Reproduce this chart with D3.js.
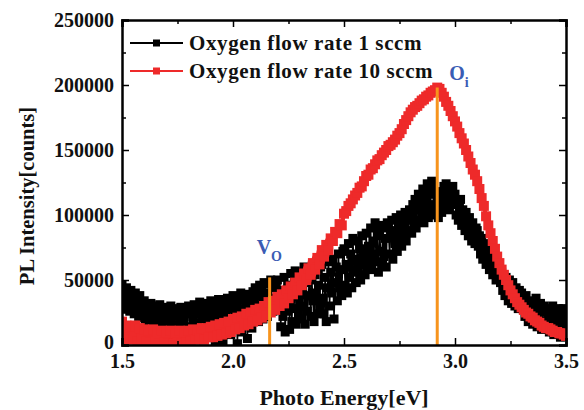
<!DOCTYPE html>
<html>
<head>
<meta charset="utf-8">
<script src="https://cdn.jsdelivr.net/npm/d3@7"></script>
<style>
  body { margin: 0; background: #fff; }
  text { font-family: "Liberation Serif", "Times New Roman", serif; font-weight: bold; }
</style>
</head>
<body>
<div id="chart"></div>
<script>
// energy grid starts at 1.50 eV; 1 sccm sampled every 0.005 eV, 10 sccm every 0.01 eV
var eStart = 1.5;
var step1 = 0.005;
var step10 = 0.01;

// PL intensity, thousands of counts
var flow1 = [
  46, 34, 40, 28, 44, 31, 38, 26, 42, 33, 36, 24, 40, 29, 34, 22, 38, 27, 32, 21,
  34, 20, 30, 16, 28, 22, 32, 14, 26, 19, 30, 15, 27, 21, 31, 13, 25, 18, 29, 16,
  28, 12, 24, 18, 30, 10, 26, 15, 22, 28, 11, 25, 17, 29, 13, 23, 19, 27, 10, 24,
  30, 14, 26, 8, 22, 31, 17, 27, 5, 24, 33, 12, 28, 20, 32, 9, 25, 16, 30, 21,
  34, 13, 27, 22, 3, 29, 18, 35, 11, 26, 32, 2, 24, 30, 16, 36, 20, 28, 8, 33,
  38, 14, 30, 24, 1, 35, 20, 40, 10, 28, 37, 17, 32, 5, 39, 22, 34, 13, 41, 26,
  44, 24, 38, 18, 46, 30, 42, 20, 48, 34, 40, 22, 47, 28, 50, 36, 26, 49, 32, 44,
  50, 30, 42, 14, 38, 22, 52, 10, 34, 26, 46, 12, 55, 18, 40, 28, 57, 16, 44, 24,
  56, 20, 42, 30, 60, 16, 48, 26, 38, 58, 22, 50, 34, 18, 54, 40, 24, 46, 30, 60,
  62, 36, 24, 52, 18, 44, 64, 30, 56, 40, 66, 20, 48, 60, 34, 70, 44, 58, 38, 72,
  74, 46, 62, 40, 78, 52, 70, 44, 82, 58, 66, 48, 80, 56, 74, 50, 84, 62, 70, 54,
  86, 60, 76, 66, 90, 58, 80, 70, 94, 64, 84, 56, 88, 72, 62, 92, 68, 82, 60, 94,
  90, 70, 84, 96, 66, 88, 78, 98, 72, 92, 82, 100, 76, 94, 86, 102, 80, 96, 88, 104,
  100, 86, 108, 94, 112, 90, 104, 116, 96, 110, 100, 120, 94, 114, 104, 124, 98, 118, 108, 126,
  120, 104, 116, 100, 112, 98, 108, 118, 102, 114, 122, 106, 124, 110, 120, 104, 118, 112, 122, 108,
  116, 100, 110, 96, 106, 112, 92, 104, 98, 88, 102, 94, 84, 98, 90, 80, 94, 86, 78, 90,
  88, 76, 84, 70, 82, 66, 78, 72, 62, 74, 68, 58, 70, 64, 54, 66, 60, 50, 62, 56,
  60, 48, 56, 42, 54, 38, 52, 46, 34, 50, 42, 32, 48, 38, 30, 44, 36, 28, 42, 34,
  40, 28, 36, 22, 38, 26, 18, 34, 24, 32, 16, 30, 22, 36, 14, 28, 20, 32, 12, 26,
  30, 14, 26, 18, 28, 10, 24, 16, 30, 8, 22, 26, 12, 28, 18, 6, 24, 14, 28, 10,
  22
];
var flow10 = [
  18, 6, 15, 4, 14, 5, 15, 3, 13, 5,
  12, 3, 11, 2, 12, 3, 10, 1, 11, 2,
  10, 1, 11, 1, 9, 2, 11, 1, 10, 2,
  11, 3, 12, 4, 11, 5, 13, 4, 12, 6,
  14, 6, 15, 7, 16, 8, 17, 9, 18, 10,
  20, 12, 21, 13, 22, 15, 24, 16, 25, 18,
  27, 19, 28, 21, 30, 23, 33, 25, 34, 27,
  37, 30, 39, 32, 42, 36, 45, 39, 48, 42,
  52, 46, 55, 50, 59, 54, 63, 58, 67, 62,
  73, 68, 77, 73, 82, 80, 87, 86, 93, 92,
  101, 103, 107, 109, 112, 115, 117, 121, 122, 126,
  130, 131, 135, 136, 139, 142, 143, 146, 148, 150,
  153, 154, 156, 158, 161, 163, 166, 170, 173, 176,
  179, 181, 183, 184, 186, 188, 189, 191, 192, 194,
  195, 196, 198, 197, 194, 191, 187, 184, 180, 176,
  172, 168, 163, 159, 155, 150, 145, 140, 135, 131,
  126, 120, 113, 107, 99, 92, 86, 80, 74, 68,
  63, 58, 54, 50, 46, 42, 39, 36, 33, 31,
  29, 27, 25, 24, 22, 21, 19, 18, 17, 15,
  14, 13, 13, 12, 11, 10, 10, 9, 9, 8,
  7
];

var seriesNames = ["Oxygen flow rate 1 sccm", "Oxygen flow rate 10 sccm"];
var seriesColors = ["#000000", "#ee2a2a"];

var xTicks = [1.5, 2.0, 2.5, 3.0, 3.5];
var yTicks = [0, 50000, 100000, 150000, 200000, 250000];

// marker lines: [energy, top intensity, label, subscript]
var markers = [
  [2.165, 52000, "V", "O"],
  [2.92, 198000, "O", "i"]
];

var width = 584, height = 410;
var margin = {left: 122, right: 18, top: 20, bottom: 65};

var svg = d3.select("#chart").append("svg")
  .attr("width", width)
  .attr("height", height);

var x = d3.scaleLinear().domain([1.5, 3.5]).range([margin.left, width - margin.right]);
var y = d3.scaleLinear().domain([0, 250000]).range([height - margin.bottom, margin.top]);

function toPoints(vals, step) {
  return vals.map(function(v, i) { return {e: eStart + i * step, v: v * 1000}; });
}

svg.append("clipPath").attr("id", "plotclip")
  .append("rect")
  .attr("x", x(1.5)).attr("y", y(250000))
  .attr("width", x(3.5) - x(1.5)).attr("height", y(0) - y(250000));

var plot = svg.append("g").attr("clip-path", "url(#plotclip)");

var markSize = [9, 10];
var lineW = [1.5, 4];
[[flow1, step1], [flow10, step10]].forEach(function(s, k) {
  var pts = toPoints(s[0], s[1]);
  var ms = markSize[k];
  plot.append("path")
    .datum(pts)
    .attr("fill", "none")
    .attr("stroke", seriesColors[k])
    .attr("stroke-width", lineW[k])
    .attr("d", d3.line().x(function(d) { return x(d.e); }).y(function(d) { return y(d.v); }));
  plot.selectAll(".m" + k)
    .data(pts)
    .enter()
    .append("rect")
    .attr("class", "m" + k)
    .attr("x", function(d) { return x(d.e) - ms / 2; })
    .attr("y", function(d) { return y(d.v) - ms / 2; })
    .attr("width", ms)
    .attr("height", ms)
    .attr("fill", seriesColors[k]);
});

// orange guide lines
svg.selectAll(".guide")
  .data(markers)
  .enter()
  .append("line")
  .attr("x1", function(d) { return x(d[0]); })
  .attr("x2", function(d) { return x(d[0]); })
  .attr("y1", y(0))
  .attr("y2", function(d) { return y(d[1]); })
  .attr("stroke", "#f7941d")
  .attr("stroke-width", 3);

var lab = svg.selectAll(".lab")
  .data(markers)
  .enter()
  .append("text")
  .attr("x", function(d, i) { return i === 0 ? x(d[0]) - 13 : x(d[0]) + 12; })
  .attr("y", function(d, i) { return i === 0 ? y(d[1]) - 23 : y(d[1]) - 8; })
  .attr("fill", "#3a5cb4")
  .attr("font-size", 20);
lab.append("tspan").text(function(d) { return d[2]; });
lab.append("tspan").attr("dy", 7).attr("font-size", 14).text(function(d) { return d[3]; });

// axes, ticks inward
var minorX = d3.range(1.5, 3.5001, 0.25);
var minorY = d3.range(0, 250001, 25000);

var xAxisB = d3.axisBottom(x).tickValues(minorX).tickSize(-7)
  .tickFormat(function(d) { return xTicks.some(function(t) { return Math.abs(t - d) < 1e-6; }) ? d3.format(".1f")(d) : ""; });
var gxb = svg.append("g").attr("transform", "translate(0," + y(0) + ")").call(xAxisB);
var xAxisT = d3.axisTop(x).tickValues(minorX).tickSize(-7).tickFormat("");
var gxt = svg.append("g").attr("transform", "translate(0," + y(250000) + ")").call(xAxisT);

var yAxisL = d3.axisLeft(y).tickValues(minorY).tickSize(-7)
  .tickFormat(function(d) { return yTicks.indexOf(d) >= 0 ? d : ""; });
var gyl = svg.append("g").attr("transform", "translate(" + x(1.5) + ",0)").call(yAxisL);
var yAxisR = d3.axisRight(y).tickValues(minorY).tickSize(-7).tickFormat("");
var gyr = svg.append("g").attr("transform", "translate(" + x(3.5) + ",0)").call(yAxisR);

[gxb, gxt, gyl, gyr].forEach(function(g) {
  g.select(".domain").attr("stroke", "#000").attr("stroke-width", 2.5);
  g.selectAll(".tick line").attr("stroke", "#000").attr("stroke-width", 1.5);
  g.selectAll(".tick text").attr("fill", "#111").attr("font-size", 20)
    .attr("font-family", "Liberation Serif, serif").attr("font-weight", "bold");
});
// minor ticks shorter
gxb.selectAll(".tick line").attr("y2", function(d, i) { return i % 2 ? -4 : -7; });
gxt.selectAll(".tick line").attr("y2", function(d, i) { return i % 2 ? 4 : 7; });
gyl.selectAll(".tick line").attr("x2", function(d, i) { return i % 2 ? 4 : 7; });
gyr.selectAll(".tick line").attr("x2", function(d, i) { return i % 2 ? -4 : -7; });
gxb.selectAll(".tick text").attr("dy", "0.9em").attr("y", 5);
gyl.selectAll(".tick text").attr("x", -8)
  .attr("dy", function(d) { return d === 0 ? "0.15em" : "0.32em"; });

// axis titles
svg.append("text")
  .attr("x", x(2.5))
  .attr("y", 405)
  .attr("text-anchor", "middle")
  .attr("font-size", 22)
  .attr("fill", "#111")
  .text("Photo Energy[eV]");

svg.append("text")
  .attr("transform", "translate(34,196) rotate(-90)")
  .attr("text-anchor", "middle")
  .attr("font-size", 20.5)
  .attr("fill", "#111")
  .text("PL Intensity[counts]");

// legend
var legend = svg.append("g");
seriesNames.forEach(function(name, k) {
  var ly = 43 + k * 28;
  legend.append("line")
    .attr("x1", 130).attr("x2", 183).attr("y1", ly).attr("y2", ly)
    .attr("stroke", seriesColors[k]).attr("stroke-width", 2);
  legend.append("rect")
    .attr("x", 153).attr("y", ly - 3.5).attr("width", 7).attr("height", 7)
    .attr("fill", seriesColors[k]);
  legend.append("text")
    .attr("x", 189).attr("y", ly + 7)
    .attr("font-size", 21)
    .attr("letter-spacing", 0.6)
    .attr("fill", "#111")
    .text(name);
});
</script>
</body>
</html>
